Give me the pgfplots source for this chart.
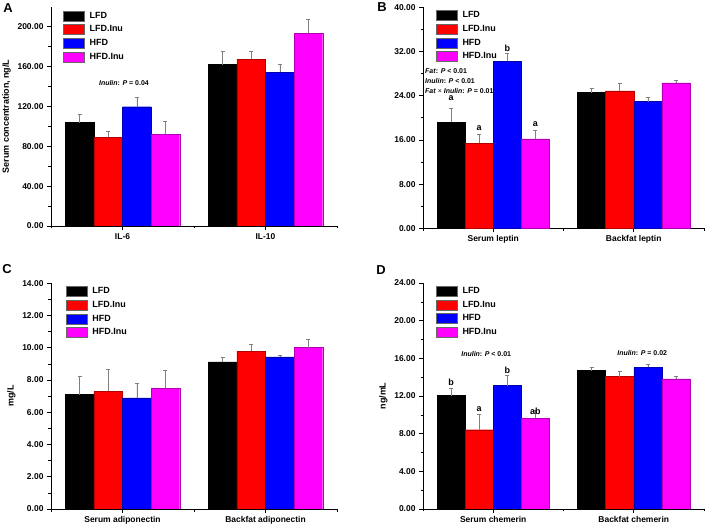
\documentclass[border=0pt]{standalone}
\usepackage{fontspec}
\setmainfont{Liberation Sans}
\usepackage{pgfplots}
\usepackage{pgfplotstable}
\pgfplotsset{compat=1.18}

\definecolor{cBlack}{RGB}{0,0,0}
\definecolor{cRed}{RGB}{255,0,0}
\definecolor{cBlue}{RGB}{0,0,255}
\definecolor{cMag}{RGB}{255,0,255}

% value and upper error for LFD, LFD.Inu, HFD, HFD.Inu
\pgfplotstableread{
x  lfd   lfde  lfdi  lfdie hfd   hfde  hfdi  hfdie
0  103.7 8.7   89.0  5.6   119.7 9.3   92.0  12.7
1  161.9 13.4  167.3 8.0   154.2 8.1   193.4 14.0
}\dataA
\pgfplotstableread{
x  lfd   lfde  lfdi  lfdie hfd   hfde  hfdi  hfdie
0  19.2  2.5   15.4  1.6   30.2  1.5   16.2  1.5
1  24.55 0.8   24.86 1.4   22.93 0.8   26.3  0.4
}\dataB
\pgfplotstableread{
x  lfd   lfde  lfdi  lfdie hfd   hfde  hfdi  hfdie
0  7.09  1.12  7.30  1.36  6.89  0.93  7.49  1.09
1  9.12  0.29  9.80  0.42  9.43  0.08  10.01 0.52
}\dataC
\pgfplotstableread{
x  lfd   lfde  lfdi  lfdie hfd   hfde  hfdi  hfdie
0  12.04 0.77  8.42  1.60  13.10 1.09  9.63  0.88
1  14.69 0.35  14.05 0.57  15.04 0.36  13.81 0.28
}\dataD

\newcommand{\statfont}{\bfseries\fontsize{7}{8}\selectfont}
\tikzset{let/.style={font=\bfseries\fontsize{9}{10}\selectfont, inner sep=0pt}}
\pgfplotsset{
  panel/.style={
    scale only axis,
    axis lines*=left,
    xmin=-0.5, xmax=1.5, xtick={0,1}, minor xtick={-0.5,0.5,1.5},
    ymin=0, minor y tick num=1,
    tick align=outside, major tick length=4bp, minor tick length=2.5bp,
    tick style={black, line width=0.6pt},
    axis line style={line width=0.8pt},
    ticklabel style={font=\bfseries\fontsize{8.5}{10}\selectfont},
    yticklabel={\pgfmathprintnumber[fixed,fixed zerofill,precision=2,assume math mode=true]{\tick}},
    ylabel style={font=\bfseries\fontsize{9}{10}\selectfont},
    ybar, bar width=0.2,
    legend style={draw=none, fill=none, anchor=north west, inner sep=0pt,
      font=\bfseries\fontsize{9}{10}\selectfont, row sep=2bp,
      cells={anchor=west},
      /tikz/every odd column/.append style={column sep=3bp}},
  },
  grp/.style n args={2}{fill=#1, draw=#1!70!black, bar shift=#2, line width=0.4pt,
    /pgfplots/legend image code/.code={\draw[##1,draw=black!60] (0bp,-5bp) rectangle (21bp,5bp);},
    error bars/.cd, y dir=plus, y explicit,
    error bar style={gray, line width=0.6pt},
    error mark options={gray, rotate=90, mark size=2bp, line width=0.6pt}},
}
\newcommand{\bars}[1]{%
  \addplot[grp={cBlack}{-0.3}] table[x=x, y=lfd, y error=lfde] {#1};
  \addplot[grp={cRed}{-0.1}] table[x=x, y=lfdi, y error=lfdie] {#1};
  \addplot[grp={cBlue}{0.1}] table[x=x, y=hfd, y error=hfde] {#1};
  \addplot[grp={cMag}{0.3}] table[x=x, y=hfdi, y error=hfdie] {#1};
  \legend{LFD, LFD.Inu, HFD, HFD.Inu}}

\begin{document}
\begin{tikzpicture}
\path[use as bounding box] (0bp,0bp) rectangle (708bp,528bp);

\begin{axis}[panel, at={(51bp,302bp)}, anchor=south west,
  width=286bp, height=219.2bp, ymax=220, ytick={0,40,...,200},
  xticklabels={IL-6, IL-10}, ylabel={Serum concentration, ng/L},
  legend style={at={(0.042,0.986)}}]
\bars{\dataA}
\node[font=\statfont] at (axis cs:0.01,143.5) {\textit{Inulin}: \textit{P} = 0.04};
\end{axis}

\begin{axis}[panel, at={(423bp,299.7bp)}, anchor=south west,
  width=281bp, height=221bp, ymax=40, ytick={0,8,...,40},
  xticklabels={Serum leptin, Backfat leptin},
  legend style={at={(0.046,0.99)}}]
\bars{\dataB}
\node[let] at (axis cs:-0.3,23.6) {a};
\node[let] at (axis cs:-0.1,18.1) {a};
\node[let] at (axis cs:0.1,32.6) {b};
\node[let] at (axis cs:0.3,18.8) {a};
\node[font=\statfont, anchor=west, inner sep=0pt] at (axis cs:-0.486,28.5) {\textit{Fat}: \textit{P} < 0.01};
\node[font=\statfont, anchor=west, inner sep=0pt] at (axis cs:-0.486,26.7) {\textit{Inulin}: \textit{P} < 0.01};
\node[font=\statfont, anchor=west, inner sep=0pt] at (axis cs:-0.486,24.9) {\textit{Fat} {\mdseries ×} \textit{Inulin}: \textit{P} = 0.01};
\end{axis}

\begin{axis}[panel, at={(51bp,19bp)}, anchor=south west,
  width=286bp, height=225.7bp, ymax=14, ytick={0,2,...,14},
  xticklabels={Serum adiponectin, Backfat adiponectin}, ylabel={mg/L},
  legend style={at={(0.052,0.99)}}]
\bars{\dataC}
\end{axis}

\begin{axis}[panel, at={(423bp,19bp)}, anchor=south west,
  width=281bp, height=226bp, ymax=24, ytick={0,4,...,24},
  xticklabels={Serum chemerin, Backfat chemerin}, ylabel={ng/mL},
  legend style={at={(0.046,0.99)}}]
\bars{\dataD}
\node[let] at (axis cs:-0.3,13.45) {b};
\node[let] at (axis cs:-0.1,10.65) {a};
\node[let] at (axis cs:0.1,14.69) {b};
\node[let] at (axis cs:0.3,10.41) {ab};
\node[font=\statfont] at (axis cs:-0.05,16.46) {\textit{Inulin}: \textit{P} < 0.01};
\node[font=\statfont] at (axis cs:1.06,16.53) {\textit{Inulin}: \textit{P} = 0.02};
\end{axis}

\node[font=\bfseries\fontsize{13}{14}\selectfont] at (8bp,520bp) {A};
\node[font=\bfseries\fontsize{13}{14}\selectfont] at (382bp,521bp) {B};
\node[font=\bfseries\fontsize{13}{14}\selectfont] at (7bp,259bp) {C};
\node[font=\bfseries\fontsize{13}{14}\selectfont] at (381bp,258bp) {D};
\end{tikzpicture}
\end{document}
